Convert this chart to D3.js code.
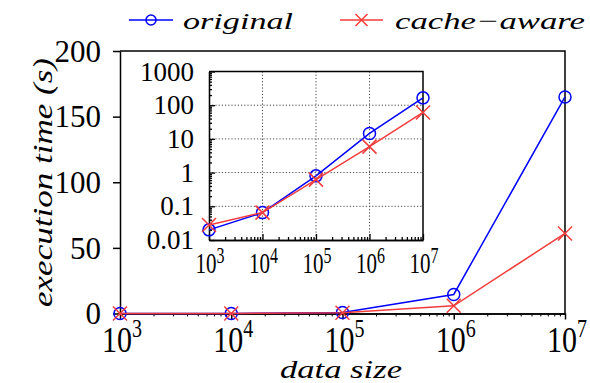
<!DOCTYPE html>
<html>
<head>
<meta charset="utf-8">
<script src="https://cdn.jsdelivr.net/npm/d3@7"></script>
<style>
  body { margin: 0; background: #fff; }
  svg { display: block; }
  .serif { font-family: "Liberation Serif", "DejaVu Serif", "Noto Serif", serif; }
  .ital { font-family: "Liberation Serif", "DejaVu Serif", "Noto Serif", serif; font-style: italic; }
</style>
</head>
<body>
<script>
// Execution time vs data size, linear main panel with a log-log inset.
const sizes = [1e3, 1e4, 1e5, 1e6, 1e7];
const exponents = ["3", "4", "5", "6", "7"];
const original = [0.02, 0.065, 0.8, 14.5, 165];
const cacheAware = [0.028, 0.065, 0.62, 5.9, 61];
const seriesNames = ["original", "cache\u2212aware"];
const seriesColors = ["#0000ff", "#f23c3c"];
const mainYTicks = [0, 50, 100, 150, 200];
const insetYTicks = [0.01, 0.1, 1, 10, 100, 1000];
const insetYLabels = ["0.01", "0.1", "1", "10", "100", "1000"];
const xTitle = "data size";
const yTitle = "execution time (s)";

const W = 590, H = 383;

const svg = d3.select("body").append("svg").attr("width", W).attr("height", H);

// log-spaced minor tick positions between the decades
const minorTicks = [];
for (let k = 3; k < 7; k++) for (let m = 2; m <= 9; m++) minorTicks.push(m * Math.pow(10, k));

const series = [
  { name: seriesNames[0], values: original, color: seriesColors[0], marker: "circle" },
  { name: seriesNames[1], values: cacheAware, color: seriesColors[1], marker: "cross" }
];

function drawMarker(g, type, x, y, color, r) {
  if (type === "circle") {
    g.append("circle").attr("cx", x).attr("cy", y).attr("r", r)
      .attr("fill", "none").attr("stroke", color).attr("stroke-width", 1.5);
  } else {
    const s = r + 1;
    g.append("path")
      .attr("d", `M${x - s},${y - s}L${x + s},${y + s}M${x - s},${y + s}L${x + s},${y - s}`)
      .attr("fill", "none").attr("stroke", color).attr("stroke-width", 1.5);
  }
}

// Power-of-ten label ("10" with a raised exponent), stretched vertically
function powerLabel(g, x, y, exp, size, supSize, supRise, sy) {
  const t = g.append("g").attr("transform", `translate(${x},${y}) scale(1,${sy})`)
    .append("text").attr("class", "serif").attr("text-anchor", "middle")
    .style("font-size", size + "px").attr("fill", "#000");
  t.append("tspan").text("10");
  t.append("tspan").style("font-size", supSize + "px").attr("dy", -supRise).text(exp);
}

// ---------------- main panel ----------------
const m = { left: 120, right: 565, top: 51, bottom: 313.5 };
const x = d3.scaleLog().domain([1e3, 1e7]).range([m.left, m.right]);
const y = d3.scaleLinear().domain([0, 200]).range([m.bottom, m.top]);

const mainG = svg.append("g");

// frame: top and right edges
mainG.append("path")
  .attr("d", `M${m.left},${m.top}H${m.right}V${m.bottom}`)
  .attr("fill", "none").attr("stroke", "#000").attr("stroke-width", 1.5);

const yAxis = mainG.append("g").attr("transform", `translate(${m.left},0)`)
  .call(d3.axisLeft(y).tickValues(mainYTicks).tickSizeInner(7).tickSizeOuter(0).tickPadding(12));
yAxis.attr("font-family", null).attr("font-size", null);
yAxis.selectAll("text").attr("class", "serif").style("font-size", "31px")
  .attr("dy", "0.33em").attr("fill", "#000");

const xMinor = mainG.append("g").attr("transform", `translate(0,${m.bottom})`)
  .call(d3.axisBottom(x).tickValues(minorTicks).tickSizeInner(3).tickSizeOuter(0).tickFormat(""));
const xAxis = mainG.append("g").attr("transform", `translate(0,${m.bottom})`)
  .call(d3.axisBottom(x).tickValues(sizes).tickSizeInner(6).tickSizeOuter(0).tickFormat(""));
[yAxis, xAxis, xMinor].forEach(a => {
  a.selectAll("path,line").attr("stroke", "#000").attr("stroke-width", 1.5);
});
xMinor.selectAll("line").attr("stroke-width", 1);

sizes.forEach((s, i) => powerLabel(mainG, x(s) + 2, 352, exponents[i], 30, 20, 12, 1.22));

const mainLine = d3.line().x((d, i) => x(sizes[i])).y(d => y(d));
series.forEach(sr => {
  const g = mainG.append("g");
  g.append("path").datum(sr.values).attr("d", mainLine)
    .attr("fill", "none").attr("stroke", sr.color).attr("stroke-width", 1.5);
  sr.values.forEach((v, i) => drawMarker(g, sr.marker, x(sizes[i]), y(v), sr.color, 6));
});

// axis titles
svg.append("text").attr("class", "ital")
  .attr("transform", `translate(52,${(58 + 307) / 2}) rotate(-90)`)
  .attr("text-anchor", "middle").style("font-size", "27px")
  .attr("textLength", 249).attr("lengthAdjust", "spacingAndGlyphs")
  .attr("fill", "#000").text(yTitle);
svg.append("text").attr("class", "ital")
  .attr("x", 341).attr("y", 378)
  .attr("text-anchor", "middle").style("font-size", "25px")
  .attr("textLength", 122).attr("lengthAdjust", "spacingAndGlyphs")
  .attr("fill", "#000").text(xTitle);

// ---------------- inset (log-log) ----------------
const n = { left: 209, right: 423, top: 71.5, bottom: 240 };
const xi = d3.scaleLog().domain([1e3, 1e7]).range([n.left, n.right]);
const yi = d3.scaleLog().domain([0.01, 1000]).range([n.bottom, n.top]);
const inset = svg.append("g");

inset.append("rect").attr("x", n.left).attr("y", n.top)
  .attr("width", n.right - n.left).attr("height", n.bottom - n.top).attr("fill", "#fff");

// dotted grid at the decades
const grid = inset.append("g").attr("stroke", "#444").attr("stroke-width", 1)
  .attr("stroke-dasharray", "1.2,2");
sizes.slice(1, -1).forEach(s => grid.append("line")
  .attr("x1", xi(s)).attr("x2", xi(s)).attr("y1", n.top).attr("y2", n.bottom));
insetYTicks.slice(1, -1).forEach(v => grid.append("line")
  .attr("x1", n.left).attr("x2", n.right).attr("y1", yi(v)).attr("y2", yi(v)));

// inward ticks
const yMinorVals = [];
for (let k = -2; k < 3; k++) for (let mm = 2; mm <= 9; mm++) yMinorVals.push(mm * Math.pow(10, k));
const ia = [];
ia.push(inset.append("g").attr("transform", `translate(0,${n.bottom})`)
  .call(d3.axisBottom(xi).tickValues(minorTicks).tickSizeInner(-3).tickSizeOuter(0).tickFormat("")));
ia.push(inset.append("g").attr("transform", `translate(0,${n.bottom})`)
  .call(d3.axisBottom(xi).tickValues(sizes).tickSizeInner(-6).tickSizeOuter(0).tickFormat("")));
ia.push(inset.append("g").attr("transform", `translate(${n.left},0)`)
  .call(d3.axisLeft(yi).tickValues(yMinorVals).tickSizeInner(-3).tickSizeOuter(0).tickFormat("")));
ia.push(inset.append("g").attr("transform", `translate(${n.left},0)`)
  .call(d3.axisLeft(yi).tickValues(insetYTicks).tickSizeInner(-6).tickSizeOuter(0).tickFormat("")));
ia.forEach(a => a.selectAll("path,line").attr("stroke", "#000").attr("stroke-width", 1.3));

inset.append("path")
  .attr("d", `M${n.left},${n.top}H${n.right}V${n.bottom}`)
  .attr("fill", "none").attr("stroke", "#000").attr("stroke-width", 1.5);

insetYTicks.forEach((v, i) => inset.append("text").attr("class", "serif")
  .attr("x", 194).attr("y", yi(v) + 9)
  .attr("text-anchor", "end").style("font-size", "27px")
  .attr("fill", "#000").text(insetYLabels[i]));

sizes.forEach((s, i) => powerLabel(inset, xi(s) + 1, 273, exponents[i], 21, 16, 7.5, 1.4));

const insetLine = d3.line().x((d, i) => xi(sizes[i])).y(d => yi(d));
series.forEach(sr => {
  const g = inset.append("g");
  g.append("path").datum(sr.values).attr("d", insetLine)
    .attr("fill", "none").attr("stroke", sr.color).attr("stroke-width", 1.5);
  sr.values.forEach((v, i) => drawMarker(g, sr.marker, xi(sizes[i]), yi(v), sr.color, 6));
});

// ---------------- legend ----------------
const legendItems = [
  { x1: 129, x2: 173, tx: 183, tl: 110 },
  { x1: 340, x2: 383, tx: 395, tl: 190 }
];
series.forEach((sr, i) => {
  const L = legendItems[i];
  const g = svg.append("g");
  g.append("line").attr("x1", L.x1).attr("x2", L.x2).attr("y1", 20).attr("y2", 20)
    .attr("stroke", sr.color).attr("stroke-width", 1.5);
  drawMarker(g, sr.marker, (L.x1 + L.x2) / 2, 20, sr.color, 5);
  g.append("text").attr("class", "ital").attr("x", L.tx).attr("y", 29)
    .style("font-size", "24px")
    .attr("textLength", L.tl).attr("lengthAdjust", "spacingAndGlyphs")
    .attr("fill", "#000").text(sr.name);
});
</script>
</body>
</html>
